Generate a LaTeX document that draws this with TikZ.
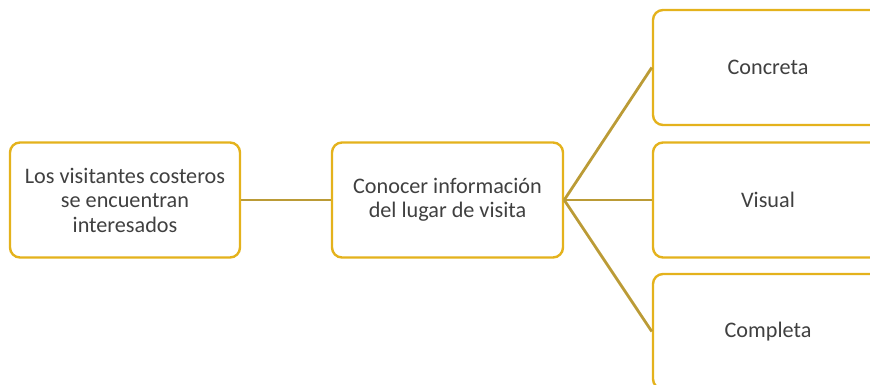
\documentclass[tikz,border=0pt]{standalone}
\usepackage{fontspec}
\setmainfont{Carlito}
\definecolor{boxgold}{HTML}{E4B21C}
\definecolor{linegold}{HTML}{BB9B36}
\definecolor{txt}{HTML}{404040}
\begin{document}
\begin{tikzpicture}[x=1pt,y=-1pt,
  mapbox/.style={draw=boxgold, line width=2.4pt, fill=white, rounded corners=10pt,
    minimum width=230pt, minimum height=115pt, inner sep=0pt, align=center,
    text=txt, font=\fontsize{22.2}{24.5}\selectfont},
  link/.style={draw=linegold, line width=2.8pt}]
\useasboundingbox (0,0) rectangle (870,385);
\clip (0,0) rectangle (870,385);
\node[mapbox] (left) at (125,200) {Los visitantes costeros\\se encuentran\\interesados};
\node[mapbox, minimum width=231pt] (mid) at (447.5,200) {Conocer información\\del lugar de visita};
\node[mapbox] (c1) at (768,67.5) {Concreta};
\node[mapbox] (c2) at (768,200) {Visual};
\node[mapbox] (c3) at (768,331.5) {Completa};
\draw[link] (left.east) -- (mid.west);
\draw[link] (mid.east) -- (c1.west);
\draw[link] (mid.east) -- (c2.west);
\draw[link] (mid.east) -- (c3.west);
\end{tikzpicture}
\end{document}
